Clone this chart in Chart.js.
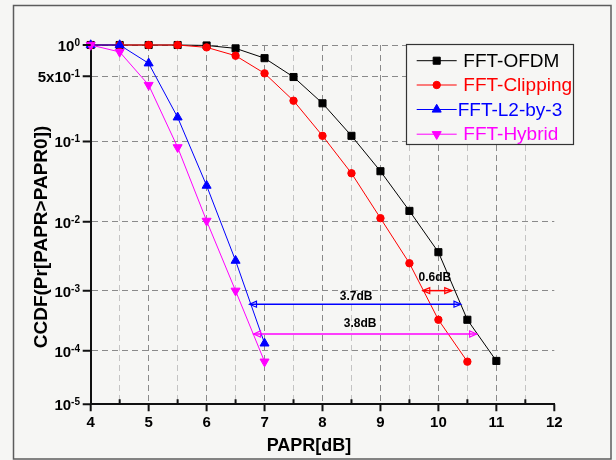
<!DOCTYPE html>
<html>
<head>
<meta charset="utf-8">
<script src="https://cdn.jsdelivr.net/npm/chart.js@4.4.0/dist/chart.umd.min.js"></script>
<style>
  html, body { margin: 0; padding: 0; background: #f6f6f4; }
  #wrap { width: 616px; height: 460px; }
</style>
</head>
<body>
<div id="wrap"><canvas id="ccdfChart" width="616" height="460"></canvas></div>
<script>
// PAPR (dB) and CCDF values
const paprOfdm = [4, 4.5, 5, 5.5, 6, 6.5, 7, 7.5, 8, 8.5, 9, 9.5, 10, 10.5, 11];
const ccdfOfdm = [1, 1, 1, 1, 0.99, 0.93, 0.75, 0.49, 0.263, 0.116, 0.0446, 0.014, 0.00377, 0.00034, 0.000066];

const paprClip = [4, 4.5, 5, 5.5, 6, 6.5, 7, 7.5, 8, 8.5, 9, 9.5, 10, 10.5];
const ccdfClip = [1, 1, 1, 1, 0.95, 0.792, 0.533, 0.28, 0.116, 0.0421, 0.0112, 0.0026, 0.00034, 0.000064];

const paprL2 = [4, 4.5, 5, 5.5, 6, 6.5, 7];
const ccdfL2 = [1, 1, 0.669, 0.186, 0.0296, 0.00284, 0.000135];

const paprHybrid = [4, 4.5, 5, 5.5, 6, 6.5, 7];
const ccdfHybrid = [1, 0.86, 0.407, 0.0857, 0.0103, 0.000995, 0.000064];

const seriesNames = ['FFT-OFDM', 'FFT-Clipping', 'FFT-L2-by-3', 'FFT-Hybrid'];

const xTickValues = [4, 5, 6, 7, 8, 9, 10, 11, 12];
const yTickValues = [1, 0.5, 0.1, 0.01, 0.001, 0.0001, 0.00001];
const yTickBase = ['10', '5x10', '10', '10', '10', '10', '10'];
const yTickExp = ['0', '-1', '-1', '-2', '-3', '-4', '-5'];

// gain arrows: start / end PAPR, CCDF level, label
const gapStart = [9.73, 6.74, 6.81];
const gapEnd = [10.23, 10.39, 10.66];
const gapLevel = [0.001, 0.00061, 0.000196];
const gapLabelX = [9.94, 8.58, 8.65];
const gapLabels = ['0.6dB', '3.7dB', '3.8dB'];

const FONT = "'Liberation Sans', Arial, sans-serif";
const BG = '#f6f6f4';

// the figure's CCDF axis is not a plain log axis: it is linear in log10(4.5 - log10 p)
const WARP_C = 4.5;
function warp(p) { return -Math.log10(WARP_C - Math.log10(p)); }
function unwarp(t) { return Math.pow(10, WARP_C - Math.pow(10, -t)); }

class CcdfScale extends Chart.Scale {
  determineDataLimits() {
    this.min = this.options.min;
    this.max = this.options.max;
  }
  buildTicks() {
    return yTickValues.map(v => ({ value: v }));
  }
  getLabelForValue(v) { return String(v); }
  configure() {
    super.configure();
    this._t0 = warp(this.min);
    this._t1 = warp(this.max);
  }
  getPixelForValue(v) {
    return this.getPixelForDecimal((warp(v) - this._t0) / (this._t1 - this._t0));
  }
  getValueForPixel(px) {
    const d = this.getDecimalForPixel(px);
    return unwarp(this._t0 + d * (this._t1 - this._t0));
  }
}
CcdfScale.id = 'ccdf';
CcdfScale.defaults = {};
Chart.register(CcdfScale);

function toPoints(xs, ys) {
  return xs.map((x, i) => ({ x: x, y: ys[i] }));
}

const seriesStyles = [
  { color: '#000000', pointStyle: 'rect', radius: 5, rotation: 0 },
  { color: '#ff0000', pointStyle: 'circle', radius: 3.7, rotation: 0 },
  { color: '#0000ff', pointStyle: 'triangle', radius: 5.2, rotation: 0 },
  { color: '#ff00ff', pointStyle: 'triangle', radius: 5.2, rotation: 180 }
];
const seriesData = [
  toPoints(paprOfdm, ccdfOfdm),
  toPoints(paprClip, ccdfClip),
  toPoints(paprL2, ccdfL2),
  toPoints(paprHybrid, ccdfHybrid)
];

const datasets = seriesNames.map((name, i) => ({
  label: name,
  data: seriesData[i],
  borderColor: seriesStyles[i].color,
  backgroundColor: seriesStyles[i].color,
  borderWidth: 1,
  pointStyle: seriesStyles[i].pointStyle,
  pointRotation: seriesStyles[i].rotation,
  pointRadius: seriesStyles[i].radius,
  pointBorderWidth: 1,
  pointHoverRadius: seriesStyles[i].radius,
  tension: 0,
  clip: false,
  order: 4 - i
}));

function arrowHead(ctx, x, y, dir) {
  ctx.beginPath();
  ctx.moveTo(x, y);
  ctx.lineTo(x - dir * 7, y - 3);
  ctx.lineTo(x - dir * 7, y + 3);
  ctx.closePath();
  ctx.stroke();
}

const decorPlugin = {
  id: 'decor',
  beforeDraw(chart) {
    const ctx = chart.ctx;
    ctx.save();
    ctx.fillStyle = BG;
    ctx.fillRect(0, 0, chart.width, chart.height);
    ctx.strokeStyle = '#5c5c5c';
    ctx.lineWidth = 1.5;
    ctx.strokeRect(13.5, 5.5, 597.5, 453.5);
    ctx.restore();
  },
  afterDraw(chart) {
    const ctx = chart.ctx;
    const xs = chart.scales.x;
    const ys = chart.scales.y;
    const area = chart.chartArea;
    ctx.save();

    // tick marks: major outward, minor inward
    ctx.strokeStyle = '#111';
    ctx.lineWidth = 2;
    ctx.beginPath();
    for (let v = 4; v <= 12; v += 0.5) {
      const px = xs.getPixelForValue(v);
      if (Number.isInteger(v)) {
        ctx.moveTo(px, area.bottom);
        ctx.lineTo(px, area.bottom + 7);
      } else {
        ctx.moveTo(px, area.bottom);
        ctx.lineTo(px, area.bottom - 5);
      }
    }
    yTickValues.forEach(v => {
      const py = ys.getPixelForValue(v);
      ctx.moveTo(area.left, py);
      ctx.lineTo(area.left - 8, py);
    });
    ctx.stroke();

    // y tick labels with superscript exponents
    ctx.fillStyle = '#000';
    ctx.textBaseline = 'alphabetic';
    yTickValues.forEach((v, i) => {
      const py = ys.getPixelForValue(v);
      ctx.font = 'bold 10px ' + FONT;
      const wExp = ctx.measureText(yTickExp[i]).width;
      ctx.font = 'bold 15px ' + FONT;
      const wBase = ctx.measureText(yTickBase[i]).width;
      const right = 80;
      ctx.fillText(yTickBase[i], right - wExp - wBase, py + 6);
      ctx.font = 'bold 10px ' + FONT;
      ctx.fillText(yTickExp[i], right - wExp, py + 1);
    });

    // axis titles
    ctx.font = 'bold 18px ' + FONT;
    ctx.textAlign = 'center';
    ctx.textBaseline = 'middle';
    ctx.fillText('PAPR[dB]', 309, 446);
    ctx.save();
    ctx.translate(42, 237);
    ctx.rotate(-Math.PI / 2);
    ctx.font = 'bold 19px ' + FONT;
    ctx.fillText('CCDF(Pr[PAPR>PAPR0])', 0, 0);
    ctx.restore();

    // gain arrows
    const gapColors = ['#ff0000', '#0000ff', '#ff00ff'];
    const labelLift = [13, 8, 10];
    gapLabels.forEach((label, i) => {
      const x1 = xs.getPixelForValue(gapStart[i]);
      const x2 = xs.getPixelForValue(gapEnd[i]);
      const py = ys.getPixelForValue(gapLevel[i]);
      ctx.strokeStyle = gapColors[i];
      ctx.lineWidth = 1.5;
      ctx.beginPath();
      ctx.moveTo(x1, py);
      ctx.lineTo(x2, py);
      ctx.stroke();
      ctx.lineWidth = 1.2;
      arrowHead(ctx, x1, py, -1);
      arrowHead(ctx, x2, py, 1);
      ctx.fillStyle = '#000';
      ctx.font = 'bold 12px ' + FONT;
      ctx.textAlign = 'center';
      ctx.textBaseline = 'middle';
      ctx.fillText(label, xs.getPixelForValue(gapLabelX[i]), py - labelLift[i]);
    });

    // legend box
    const lx = 406.5, ly = 44.5, lw = 167, lh = 100;
    ctx.fillStyle = BG;
    ctx.fillRect(lx, ly, lw, lh);
    ctx.strokeStyle = '#333';
    ctx.lineWidth = 1.2;
    ctx.strokeRect(lx, ly, lw, lh);
    const rowY = [60.7, 85, 109.5, 134.2];
    const textX = [463.3, 463.3, 457.7, 463.3];
    seriesNames.forEach((name, i) => {
      const st = seriesStyles[i];
      const y = rowY[i];
      ctx.strokeStyle = st.color;
      ctx.lineWidth = 1;
      ctx.beginPath();
      ctx.moveTo(416.7, y);
      ctx.lineTo(456.7, y);
      ctx.stroke();
      ctx.fillStyle = st.color;
      Chart.helpers.drawPoint(ctx, {
        pointStyle: st.pointStyle,
        rotation: st.rotation,
        radius: st.radius,
        borderWidth: 1
      }, 436.7, y);
      ctx.font = '19px ' + FONT;
      ctx.textAlign = 'left';
      ctx.textBaseline = 'middle';
      ctx.fillText(name, textX[i], y + 1);
    });

    ctx.restore();
  }
};

new Chart(document.getElementById('ccdfChart'), {
  type: 'line',
  data: { datasets: datasets },
  plugins: [decorPlugin],
  options: {
    responsive: false,
    animation: false,
    layout: { padding: { left: 90.7, top: 45, right: 61.7, bottom: 27.7 } },
    plugins: {
      legend: { display: false },
      tooltip: { enabled: false },
      title: { display: false }
    },
    scales: {
      x: {
        type: 'linear',
        min: 4,
        max: 12,
        afterFit: s => { s.height = 28; },
        afterBuildTicks: s => {
          const t = [];
          for (let v = 4; v <= 12; v += 0.5) t.push({ value: v });
          s.ticks = t;
        },
        ticks: {
          autoSkip: false,
          maxRotation: 0,
          padding: 10,
          color: '#000',
          font: { family: FONT, size: 15, weight: 'bold' },
          callback: v => (xTickValues.includes(v) ? String(v) : '')
        },
        grid: {
          drawTicks: false,
          lineWidth: 1,
          color: c => {
            const v = c.tick ? c.tick.value : 0;
            if (v === 4 || v === 12) return 'rgba(0,0,0,0)';
            return Number.isInteger(v) ? '#8a8a8a' : '#c4c4c4';
          }
        },
        border: { display: true, color: '#111', width: 2, dash: [6, 4] }
      },
      y: {
        type: 'ccdf',
        min: 0.00001,
        max: 1,
        afterFit: s => { s.width = 0; },
        ticks: { display: false },
        grid: {
          drawTicks: false,
          lineWidth: 1,
          color: c => (c.tick && c.tick.value === 0.00001 ? 'rgba(0,0,0,0)' : '#8a8a8a')
        },
        border: { display: true, color: '#111', width: 2, dash: [6, 4] }
      }
    }
  }
});
</script>
</body>
</html>
